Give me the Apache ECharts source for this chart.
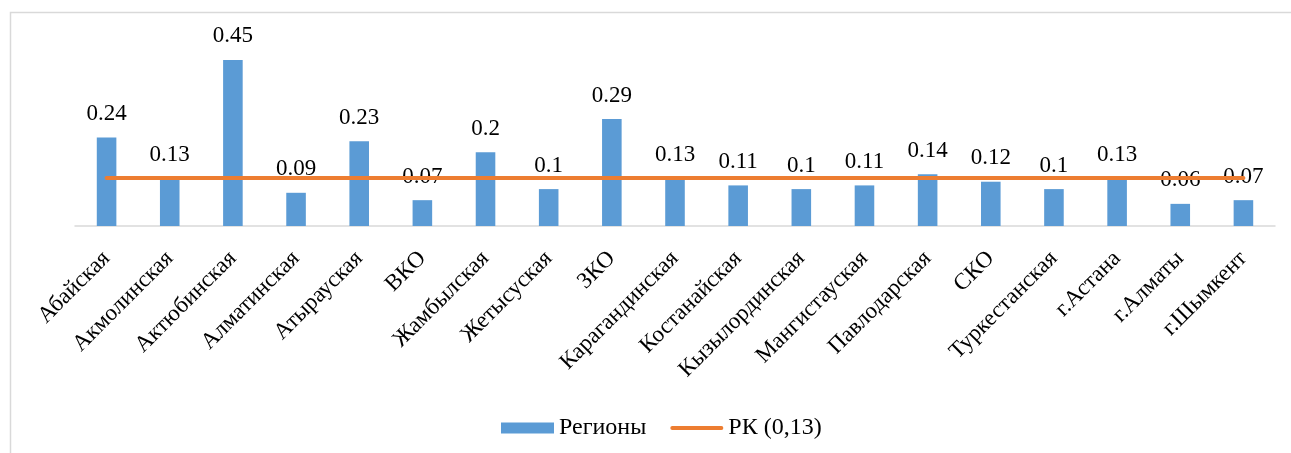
<!DOCTYPE html>
<html>
<head>
<meta charset="utf-8">
<script src="https://cdn.jsdelivr.net/npm/echarts@6/dist/echarts.min.js"></script>
<style>
  html, body { margin: 0; padding: 0; background: #fff; }
  #chart { width: 1291px; height: 453px; }
</style>
</head>
<body>
<div id="chart"></div>
<script>
// Regions of Kazakhstan and their indicator values
const regions = ['Абайская', 'Акмолинская', 'Актюбинская', 'Алматинская', 'Атырауская', 'ВКО',
  'Жамбылская', 'Жетысуская', 'ЗКО', 'Карагандинская', 'Костанайская', 'Кызылординская',
  'Мангистауская', 'Павлодарская', 'СКО', 'Туркестанская', 'г.Астана', 'г.Алматы', 'г.Шымкент'];
const regionValues = [0.24, 0.13, 0.45, 0.09, 0.23, 0.07, 0.2, 0.1, 0.29, 0.13, 0.11, 0.1, 0.11, 0.14, 0.12, 0.1, 0.13, 0.06, 0.07];
// Republic-wide level
const rkLevel = 0.13;
const rkValues = regions.map(() => rkLevel);
const seriesNames = ['Регионы', 'РК (0,13)'];

const FONT = 'Liberation Serif';
const FS = 23;
const chart = echarts.init(document.getElementById('chart'), null, { renderer: 'canvas' });

chart.setOption({
  backgroundColor: '#fff',
  animation: false,
  textStyle: { fontFamily: FONT },
  graphic: [{
    type: 'rect',
    shape: { x: 10.5, y: 12.5, width: 1300, height: 470 },
    style: { fill: 'none', stroke: '#d9d9d9', lineWidth: 1.5 },
    silent: true
  }],
  grid: { left: 75, right: 16, top: 41.5, height: 184.5, containLabel: false },
  legend: {
    top: 411,
    left: 496,
    itemGap: 24,
    itemWidth: 53,
    itemHeight: 11,
    textStyle: { fontFamily: FONT, fontSize: 24, color: '#000' },
    data: [
      { name: seriesNames[0], icon: 'rect' },
      { name: seriesNames[1], icon: 'path://M2,0 L54,0 A2,2 0 0 1 54,4 L2,4 A2,2 0 0 1 2,0 Z' }
    ]
  },
  xAxis: {
    type: 'category',
    data: regions,
    axisLine: { lineStyle: { color: '#d9d9d9', width: 1.5 } },
    axisTick: { show: false },
    axisLabel: {
      interval: 0,
      rotate: 45,
      margin: 29,
      fontFamily: FONT,
      fontSize: FS,
      color: '#000'
    }
  },
  yAxis: {
    type: 'value',
    min: 0,
    max: 0.5,
    show: false,
    splitLine: { show: false }
  },
  series: [
    {
      name: seriesNames[0],
      type: 'bar',
      data: regionValues,
      barWidth: '31%',
      itemStyle: { color: '#5b9bd5' },
      label: {
        show: true,
        position: 'top',
        distance: 12,
        fontFamily: FONT,
        fontSize: FS,
        color: '#000'
      },
      z: 2
    },
    {
      name: seriesNames[1],
      type: 'line',
      data: rkValues,
      symbol: 'none',
      lineStyle: { color: '#ed7d31', width: 4, cap: 'round' },
      itemStyle: { color: '#ed7d31' },
      z: 3
    }
  ]
});
</script>
</body>
</html>
